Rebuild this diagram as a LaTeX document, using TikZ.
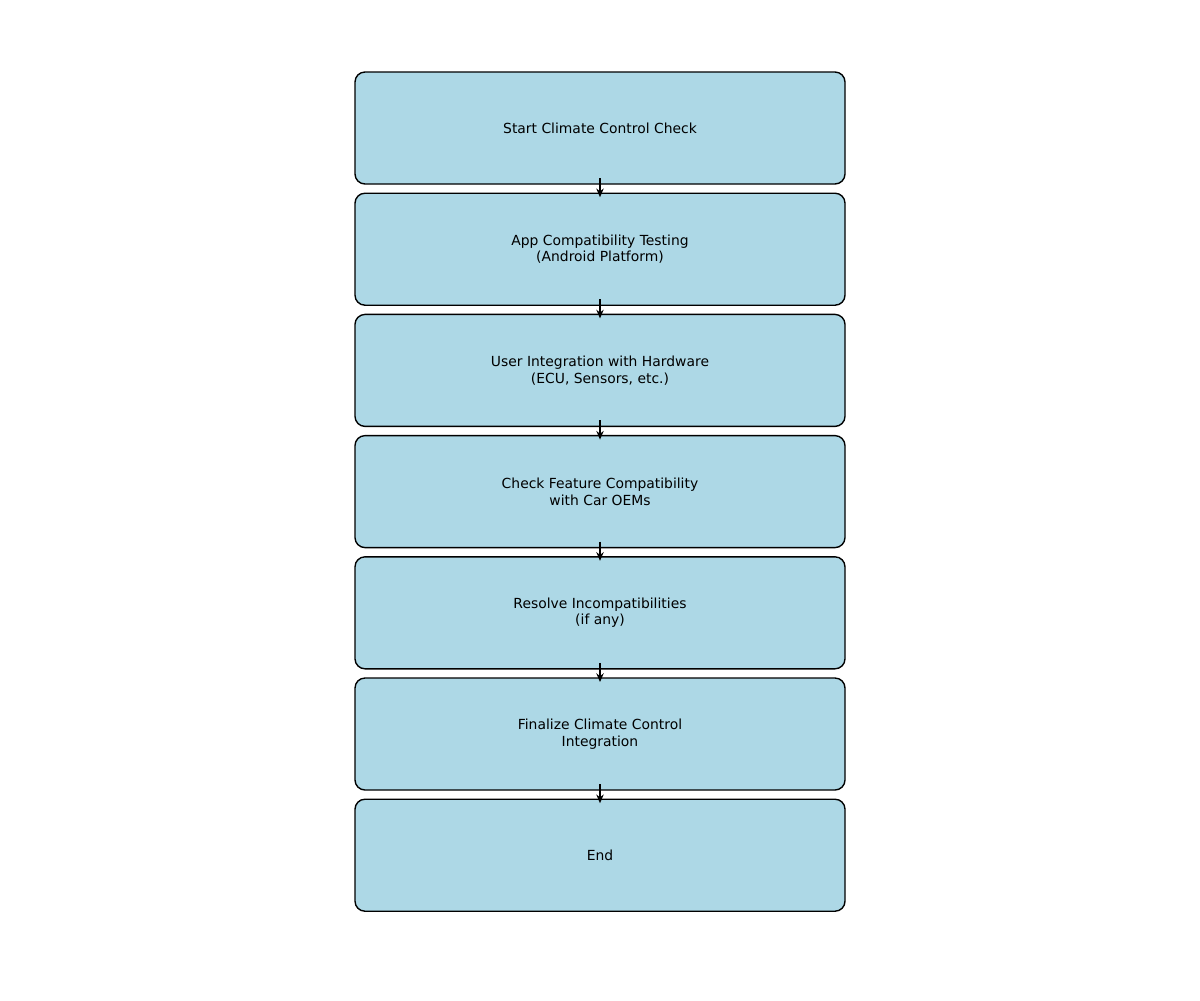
\documentclass[tikz,border=0pt]{standalone}
\usepackage{fontspec}
\setmainfont{DejaVu Sans}
\usetikzlibrary{positioning,arrows.meta}
\definecolor{boxblue}{HTML}{ADD8E6}

\begin{document}
\begin{tikzpicture}[x=0.75pt,y=0.75pt,yscale=-1,
    node distance=6.9pt,
    stepbox/.style={draw=black,fill=boxblue,line width=1.04pt,rounded corners=7.5pt,
        minimum width=367.5pt,minimum height=84pt,outer sep=0pt,align=center,
        font=\fontsize{10.42}{12.5}\selectfont},
    flow/.style={-{Stealth[length=6.5pt,width=5.5pt]},line width=1.6pt,
        shorten <=-4.5pt,shorten >=-3pt}]
    %set diagram size
    \useasboundingbox (0,0) rectangle (1200,1000);

    % Boxes
    \node[stepbox] (start) at (600,128) {Start Climate Control Check};
    \node[stepbox,below=of start] (apptest) {App Compatibility Testing\\(Android Platform)};
    \node[stepbox,below=of apptest] (hardware) {User Integration with Hardware\\(ECU, Sensors, etc.)};
    \node[stepbox,below=of hardware] (oemcheck) {Check Feature Compatibility\\with Car OEMs};
    \node[stepbox,below=of oemcheck] (resolve) {Resolve Incompatibilities\\(if any)};
    \node[stepbox,below=of resolve] (finalize) {Finalize Climate Control\\Integration};
    \node[stepbox,below=of finalize] (end) {End};

    % Arrows
    \foreach \a/\b in {start/apptest,apptest/hardware,hardware/oemcheck,
        oemcheck/resolve,resolve/finalize,finalize/end}
        \draw[flow] (\a.south) -- (\b.north);
\end{tikzpicture}
\end{document}
